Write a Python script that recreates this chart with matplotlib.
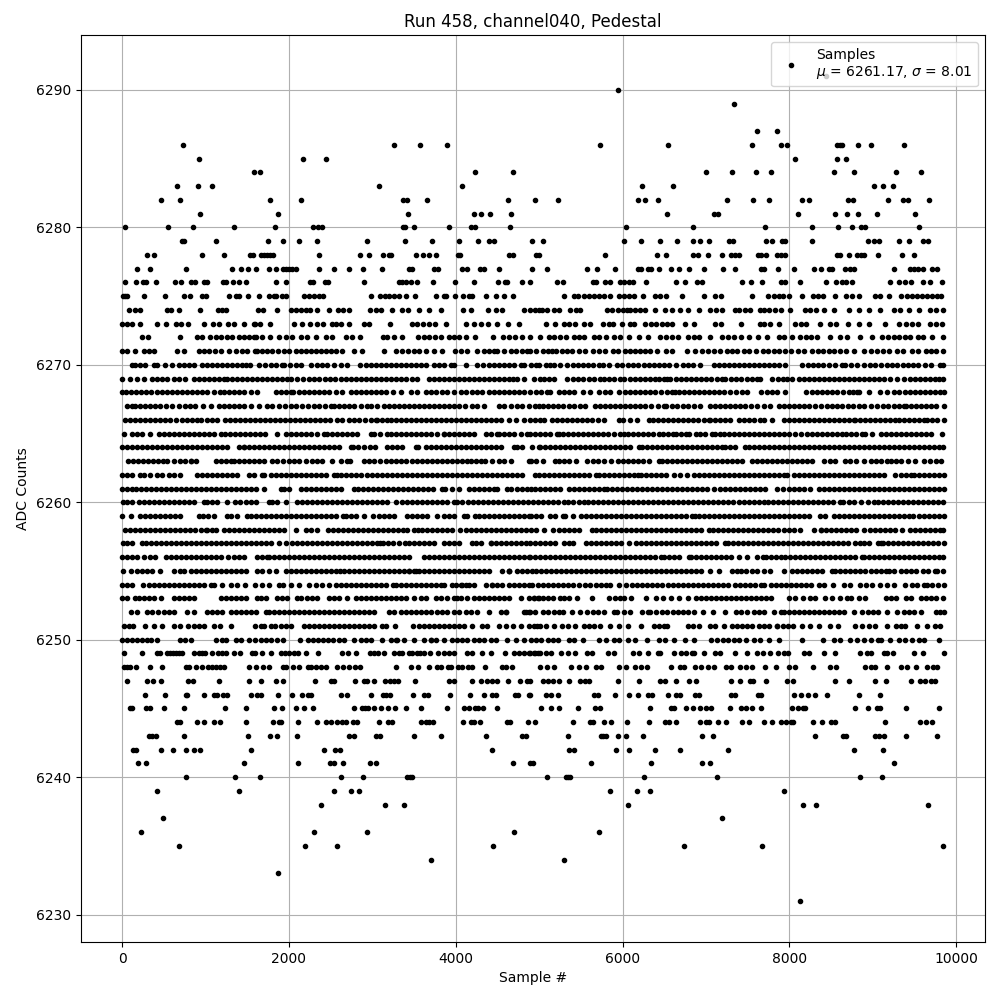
import matplotlib
matplotlib.use("Agg")
import matplotlib.pyplot as plt

# Sample numbers, one list per ADC count level
s6291 = [8443]
s6290 = [5940]
s6289 = [7332]
s6287 = [7608, 7848]
s6286 = [728, 3260, 3572, 3896, 5724, 6540, 7548, 7896, 7968, 8568, 8604, 8628, 8820, 8976, 9372]
s6285 = [920, 2168, 2444, 8064, 8568, 8676]
s6284 = [1580, 1652, 4232, 4688, 6996, 7308, 7596, 7776, 8532, 8772, 9276, 9576]
s6283 = [656, 908, 1076, 3080, 4076, 6228, 6600, 9012, 9120, 9240]
s6282 = [464, 692, 1772, 2144, 3368, 3416, 3656, 4628, 4944, 5220, 6180, 6264, 6420, 7248, 7560, 7752, 8148, 8232, 8700, 8760, 9180, 9360, 9420, 9672]
s6281 = [932, 1868, 3428, 4220, 4304, 4412, 4664, 6528, 7092, 7140, 8100, 8544, 8688, 8820, 9048, 9504]
s6280 = [32, 548, 848, 1340, 1832, 2288, 2348, 2396, 3368, 3392, 3500, 3920, 4184, 4232, 4652, 6036, 6840, 7704, 8268, 8580, 8748, 8856, 8904, 9552]
s6279 = [716, 740, 1124, 1748, 1928, 2120, 2336, 2936, 3392, 3716, 4040, 4268, 4396, 4460, 4912, 5040, 6012, 6216, 6444, 6648, 6840, 6924, 7032, 7272, 7320, 7716, 7788, 7908, 7944, 8268, 8940, 9012, 9072, 9312, 9432, 9600, 9660]
s6278 = [296, 380, 956, 1220, 1532, 1568, 1664, 1700, 1736, 1772, 1808, 2360, 2852, 2960, 3128, 3200, 3224, 3524, 3608, 3680, 3764, 4028, 4052, 4640, 4688, 4956, 4992, 5784, 6408, 6516, 6840, 6900, 7020, 7188, 7296, 7344, 7392, 7620, 7656, 7716, 7848, 7896, 7944, 8568, 8604, 8712, 8808, 8856, 8892, 9060, 9348, 9492]
s6277 = [176, 332, 764, 1316, 1424, 1508, 1604, 1760, 1844, 1928, 1964, 2000, 2036, 2084, 2360, 2540, 2720, 2888, 3116, 3440, 3476, 3740, 3788, 4076, 4136, 4292, 4340, 4520, 4912, 5088, 5568, 5688, 5904, 6180, 6216, 6300, 6336, 6432, 6576, 6672, 6792, 6972, 7200, 7344, 7656, 7692, 7860, 8052, 8292, 8376, 8472, 8508, 8664, 8724, 8772, 9252, 9444, 9492, 9540, 9600, 9708, 9768]
s6276 = [40, 172, 256, 292, 412, 632, 704, 824, 872, 980, 1016, 1208, 1244, 1328, 1400, 1484, 1844, 1964, 2252, 2288, 2432, 2468, 2900, 3320, 3356, 3404, 3464, 3536, 3728, 3992, 4220, 4508, 4592, 4616, 4796, 4892, 5208, 5280, 5640, 5676, 5784, 5844, 5964, 6012, 6072, 6120, 6276, 6636, 6744, 6888, 6948, 7428, 7536, 7668, 7896, 7944, 8124, 8436, 8556, 8628, 8676, 8748, 9204, 9312, 9384, 9452, 9600, 9684, 9828]
s6275 = [12, 36, 60, 268, 512, 740, 820, 956, 1004, 1280, 1360, 1400, 1508, 1640, 1760, 1820, 1844, 1916, 1964, 2180, 2240, 2300, 2360, 2408, 2984, 3092, 3152, 3200, 3260, 3320, 3400, 3512, 3764, 3860, 3884, 3992, 4088, 4160, 4196, 4364, 4484, 4580, 4688, 5292, 5412, 5470, 5532, 5592, 5652, 5712, 5772, 5844, 5952, 6020, 6080, 6132, 6240, 6384, 6444, 6516, 6712, 6972, 7104, 7176, 7552, 7740, 7812, 7872, 7920, 7992, 8148, 8280, 8340, 8400, 8544, 8676, 8748, 8832, 9024, 9084, 9192, 9332, 9412, 9472, 9530, 9590, 9650, 9710, 9770, 9820]
s6274 = [80, 160, 220, 536, 584, 680, 932, 1148, 1200, 1244, 1628, 1688, 1856, 2024, 2090, 2150, 2200, 2252, 2336, 2480, 2588, 2650, 2720, 2972, 3040, 3100, 3236, 3356, 3428, 3560, 3680, 3824, 4088, 4180, 4388, 4484, 4556, 4820, 4892, 4950, 5000, 5032, 5092, 5172, 5232, 5364, 5440, 5492, 5812, 5872, 5940, 6000, 6052, 6084, 6150, 6212, 6272, 6384, 6504, 6588, 6684, 6780, 6912, 7044, 7116, 7188, 7344, 7400, 7470, 7530, 7652, 7700, 7760, 7830, 7900, 8012, 8184, 8250, 8320, 8412, 8532, 8712, 8832, 8952, 9084, 9252, 9330, 9432, 9552, 9680, 9760, 9844]
s6273 = [0, 60, 120, 220, 420, 524, 644, 710, 788, 980, 1088, 1160, 1268, 1340, 1460, 1580, 1592, 1650, 1772, 2060, 2160, 2252, 2340, 2410, 2520, 2564, 2630, 2720, 2900, 2960, 3212, 3476, 3540, 3610, 3680, 3752, 3884, 4120, 4220, 4300, 4388, 4496, 4628, 4760, 5076, 5192, 5292, 5360, 5432, 5532, 5612, 5760, 5832, 5890, 5992, 6084, 6140, 6272, 6340, 6400, 6470, 6530, 6590, 6752, 6852, 7104, 7176, 7420, 7644, 7692, 7764, 7872, 8064, 8140, 8200, 8364, 8484, 8560, 8700, 8832, 8952, 9144, 9312, 9400, 9470, 9540, 9684, 9756, 9832]
s6272 = [240, 308, 692, 900, 960, 1056, 1120, 1180, 1260, 1320, 1400, 1460, 1520, 1580, 1608, 1680, 1772, 1880, 1960, 2040, 2140, 2220, 2324, 2440, 2520, 2680, 2760, 2852, 3124, 3180, 3260, 3360, 3548, 3620, 3680, 3750, 3820, 3920, 3980, 4040, 4120, 4228, 4448, 4572, 4640, 4712, 4800, 4888, 5012, 5112, 5180, 5244, 5324, 5412, 5472, 5540, 5652, 5712, 5804, 5892, 5964, 6072, 6192, 6300, 6452, 6520, 6590, 6660, 6780, 6852, 6920, 7052, 7192, 7260, 7332, 7420, 7512, 7620, 7732, 7872, 7940, 8028, 8132, 8200, 8260, 8330, 8484, 8612, 8692, 8852, 8992, 9112, 9180, 9252, 9312, 9380, 9440, 9540, 9604, 9704, 9844]
s6271 = [0, 60, 160, 260, 320, 388, 660, 740, 920, 980, 1040, 1110, 1180, 1280, 1360, 1436, 1500, 1588, 1620, 1680, 1740, 1800, 1870, 1940, 2000, 2080, 2140, 2200, 2260, 2320, 2380, 2440, 2500, 2570, 2640, 2780, 2880, 3140, 3280, 3360, 3428, 3500, 3560, 3644, 3740, 3836, 3992, 4060, 4132, 4260, 4340, 4400, 4460, 4500, 4580, 4660, 4720, 4790, 4860, 4892, 4960, 5040, 5100, 5152, 5204, 5272, 5332, 5392, 5472, 5552, 5644, 5720, 5790, 5884, 5940, 6024, 6090, 6150, 6210, 6270, 6332, 6412, 6520, 6592, 6772, 6872, 6952, 7020, 7100, 7172, 7250, 7310, 7372, 7452, 7520, 7600, 7680, 7740, 7810, 7880, 7952, 8020, 8100, 8180, 8272, 8340, 8400, 8470, 8540, 8612, 8680, 8780, 8892, 8980, 9050, 9120, 9192, 9292, 9360, 9472, 9540, 9632, 9700, 9760, 9840]
s6270 = [120, 160, 220, 280, 380, 420, 520, 600, 680, 740, 800, 860, 960, 1020, 1080, 1140, 1200, 1260, 1320, 1380, 1440, 1532, 1480, 1640, 1708, 1780, 1840, 1920, 1940, 2010, 2080, 2140, 2260, 2340, 2400, 2460, 2540, 2620, 2700, 2852, 2920, 2980, 3040, 3100, 3160, 3220, 3280, 3340, 3400, 3460, 3520, 3580, 3640, 3740, 3800, 3860, 3940, 3980, 4120, 4260, 4332, 4400, 4460, 4520, 4580, 4640, 4700, 4780, 4820, 4900, 4960, 5000, 5080, 5132, 5172, 5252, 5332, 5400, 5470, 5530, 5590, 5650, 5720, 5770, 5832, 5932, 5992, 6060, 6120, 6190, 6252, 6312, 6380, 6440, 6500, 6552, 6640, 6720, 6780, 6850, 6924, 7092, 7160, 7220, 7280, 7340, 7400, 7460, 7520, 7580, 7640, 7700, 7760, 7820, 7880, 7952, 8152, 8220, 8280, 8340, 8400, 8480, 8550, 8632, 8672, 8740, 8812, 8892, 8960, 9030, 9100, 9170, 9232, 9292, 9360, 9420, 9480, 9540, 9620, 9692, 9804, 9840]
s6269 = [0, 100, 180, 260, 360, 420, 480, 540, 620, 680, 760, 860, 920, 980, 1040, 1100, 1160, 1220, 1260, 1320, 1380, 1440, 1500, 1560, 1620, 1680, 1740, 1800, 1860, 1920, 1980, 2020, 2100, 2170, 2240, 2300, 2360, 2430, 2490, 2550, 2620, 2680, 2740, 2800, 2860, 2920, 2980, 3040, 3100, 3160, 3220, 3280, 3340, 3400, 3470, 3540, 3680, 3740, 3800, 3860, 3920, 3980, 4040, 4100, 4160, 4220, 4280, 4340, 4400, 4460, 4520, 4580, 4640, 4690, 4740, 4820, 4940, 5010, 5052, 5120, 5180, 5332, 5400, 5470, 5530, 5600, 5660, 5732, 5772, 5840, 5900, 5972, 6012, 6092, 6150, 6210, 6270, 6330, 6392, 6440, 6492, 6532, 6572, 6640, 6700, 6760, 6820, 6880, 6940, 7000, 7060, 7130, 7192, 7232, 7300, 7360, 7420, 7490, 7550, 7612, 7652, 7792, 7860, 7920, 7972, 8032, 8112, 8172, 8230, 8290, 8350, 8410, 8470, 8530, 8590, 8650, 8710, 8770, 8830, 8890, 8950, 9010, 9070, 9130, 9200, 9292, 9372, 9440, 9500, 9560, 9620, 9680, 9740, 9790, 9844]
s6268 = [0, 50, 110, 170, 230, 290, 350, 420, 480, 540, 600, 660, 720, 780, 840, 900, 960, 1020, 1100, 1172, 1220, 1280, 1340, 1400, 1460, 1540, 1620, 1840, 1900, 1960, 2020, 2052, 2120, 2180, 2240, 2300, 2360, 2420, 2480, 2560, 2640, 2740, 2800, 2860, 2920, 2980, 3040, 3100, 3160, 3250, 3340, 3460, 3530, 3640, 3700, 3760, 3830, 3900, 3980, 4060, 4120, 4190, 4260, 4320, 4400, 4460, 4520, 4580, 4640, 4700, 4760, 4820, 4892, 4960, 5020, 5092, 5132, 5232, 5292, 5360, 5420, 5520, 5612, 5720, 5790, 5852, 5952, 6024, 6090, 6150, 6210, 6270, 6330, 6392, 6460, 6530, 6590, 6632, 6672, 6740, 6800, 6860, 6920, 6980, 7040, 7100, 7160, 7220, 7292, 7360, 7430, 7492, 7660, 7730, 7790, 7852, 7952, 8204, 8270, 8330, 8390, 8450, 8510, 8570, 8640, 8710, 8760, 8812, 8832, 8952, 9084, 9172, 9252, 9312, 9380, 9440, 9500, 9560, 9620, 9680, 9740, 9800, 9850]
s6267 = [60, 120, 160, 220, 280, 340, 400, 460, 530, 600, 680, 760, 820, 880, 970, 1060, 1160, 1220, 1280, 1340, 1400, 1460, 1540, 1640, 1740, 1800, 1880, 1948, 2020, 2090, 2160, 2230, 2300, 2360, 2430, 2500, 2540, 2600, 2660, 2720, 2780, 2860, 2940, 2988, 3060, 3140, 3200, 3260, 3320, 3380, 3440, 3500, 3560, 3620, 3680, 3740, 3800, 3860, 3920, 3980, 4040, 4110, 4190, 4260, 4340, 4520, 4580, 4660, 4740, 4800, 4880, 4952, 4992, 5050, 5110, 5170, 5230, 5290, 5352, 5420, 5490, 5552, 5672, 5732, 5792, 5852, 5912, 5970, 6032, 6084, 6150, 6212, 6272, 6340, 6420, 6492, 6524, 6590, 6650, 6720, 6790, 6852, 6932, 7052, 7110, 7170, 7230, 7290, 7350, 7410, 7470, 7540, 7610, 7690, 7772, 7872, 7940, 8000, 8060, 8120, 8180, 8240, 8310, 8380, 8450, 8510, 8572, 8632, 8700, 8760, 8830, 8900, 8972, 9052, 9120, 9180, 9250, 9310, 9372, 9400, 9452, 9520, 9580, 9640, 9700, 9760, 9852]
s6266 = [40, 100, 160, 220, 280, 340, 400, 460, 520, 580, 650, 720, 780, 840, 900, 940, 1012, 1080, 1140, 1228, 1290, 1350, 1410, 1470, 1530, 1590, 1650, 1710, 1770, 1830, 1890, 1950, 2010, 2070, 2130, 2190, 2250, 2310, 2370, 2430, 2490, 2580, 2640, 2720, 2780, 2840, 2910, 2980, 3040, 3060, 3120, 3170, 3220, 3280, 3340, 3400, 3460, 3520, 3580, 3640, 3700, 3760, 3820, 3880, 3940, 4000, 4060, 4120, 4180, 4240, 4300, 4360, 4420, 4480, 4540, 4640, 4720, 4820, 4892, 4950, 5012, 5052, 5152, 5210, 5270, 5330, 5390, 5450, 5510, 5570, 5630, 5700, 5772, 5952, 6010, 6090, 6172, 6312, 6370, 6430, 6490, 6550, 6610, 6670, 6730, 6790, 6850, 6910, 6970, 7032, 7052, 7110, 7170, 7230, 7292, 7392, 7450, 7510, 7570, 7652, 7692, 7792, 7932, 7990, 8050, 8110, 8170, 8230, 8290, 8350, 8410, 8470, 8530, 8590, 8650, 8710, 8772, 8792, 8850, 8910, 8970, 9030, 9090, 9150, 9210, 9260, 9312, 9372, 9430, 9490, 9550, 9612, 9652, 9710, 9770, 9852]
s6265 = [20, 120, 180, 240, 340, 440, 500, 560, 620, 680, 740, 800, 860, 920, 980, 1040, 1100, 1180, 1228, 1290, 1350, 1410, 1470, 1530, 1590, 1650, 1710, 1860, 1960, 2020, 2080, 2140, 2200, 2260, 2340, 2420, 2460, 2520, 2580, 2640, 2700, 2760, 2820, 2980, 3020, 3090, 3180, 3220, 3280, 3340, 3400, 3460, 3520, 3580, 3640, 3700, 3780, 3860, 3860, 3920, 3980, 4040, 4100, 4160, 4220, 4360, 4420, 4500, 4520, 4580, 4640, 4700, 4780, 4860, 4892, 4950, 5010, 5070, 5130, 5212, 5232, 5290, 5350, 5410, 5470, 5530, 5590, 5650, 5710, 5770, 5830, 5900, 5972, 6012, 6070, 6130, 6190, 6250, 6310, 6370, 6432, 6480, 6540, 6600, 6640, 6700, 6760, 6800, 6880, 6932, 6992, 7072, 7112, 7172, 7212, 7270, 7330, 7390, 7450, 7510, 7570, 7630, 7690, 7750, 7810, 7870, 7930, 8000, 8064, 8144, 8212, 8270, 8330, 8390, 8450, 8510, 8570, 8632, 8680, 8740, 8800, 8870, 8912, 8992, 9092, 9152, 9220, 9280, 9340, 9400, 9460, 9520, 9580, 9640, 9692, 9832]
s6264 = [0, 60, 120, 180, 240, 300, 360, 420, 480, 540, 600, 660, 720, 780, 840, 900, 960, 1020, 1080, 1140, 1200, 1260, 1400, 1460, 1460, 1520, 1580, 1640, 1700, 1760, 1820, 1880, 1940, 2000, 2060, 2120, 2180, 2240, 2300, 2360, 2420, 2480, 2540, 2600, 2740, 2768, 2830, 2900, 2970, 3030, 3172, 3230, 3300, 3360, 3520, 3548, 3640, 3700, 3760, 3820, 3880, 3940, 4000, 4060, 4120, 4180, 4240, 4300, 4360, 4420, 4480, 4540, 4700, 4740, 4800, 4920, 5000, 5012, 5072, 5132, 5192, 5252, 5312, 5372, 5432, 5492, 5552, 5612, 5672, 5732, 5792, 5852, 5912, 5972, 6032, 6092, 6192, 6232, 6292, 6352, 6412, 6472, 6532, 6592, 6652, 6712, 6772, 6832, 6892, 6952, 7012, 7072, 7132, 7192, 7232, 7292, 7352, 7472, 7512, 7572, 7632, 7692, 7752, 7812, 7872, 7932, 7992, 8052, 8112, 8172, 8232, 8292, 8352, 8412, 8472, 8532, 8592, 8652, 8712, 8772, 8832, 8892, 8952, 9012, 9072, 9132, 9192, 9252, 9312, 9372, 9432, 9492, 9552, 9612, 9672, 9732, 9792, 9844]
s6263 = [68, 130, 190, 250, 310, 370, 430, 490, 540, 620, 828, 690, 760, 830, 890, 1120, 1180, 1240, 1300, 1340, 1400, 1460, 1520, 1580, 1640, 1700, 1800, 1860, 1930, 2000, 2060, 2120, 2200, 2280, 2340, 2400, 2520, 2630, 2700, 2730, 2900, 2960, 3020, 3090, 3160, 3220, 3280, 3340, 3400, 3480, 3540, 3600, 3660, 3720, 3780, 3840, 3900, 3960, 4020, 4080, 4140, 4188, 4240, 4300, 4348, 4440, 4520, 4580, 4660, 4880, 4900, 4960, 5040, 5192, 5240, 5300, 5360, 5440, 5572, 5640, 5700, 5772, 5864, 5940, 6000, 6060, 6120, 6180, 6240, 6320, 6432, 6472, 6530, 6590, 6650, 6710, 6770, 6830, 6890, 6950, 7010, 7070, 7130, 7190, 7250, 7310, 7370, 7432, 7552, 7612, 7672, 7732, 7792, 7852, 7912, 7972, 8032, 8092, 8152, 8212, 8272, 8412, 8484, 8544, 8672, 8730, 8800, 8892, 8972, 9032, 9092, 9172, 9220, 9280, 9340, 9420, 9504, 9612, 9680, 9752, 9812]
s6262 = [0, 60, 120, 220, 268, 340, 420, 480, 560, 620, 700, 900, 960, 1020, 1080, 1140, 1200, 1260, 1320, 1380, 1520, 1580, 1680, 1700, 1780, 1840, 1900, 1960, 2020, 2080, 2140, 2200, 2260, 2320, 2380, 2440, 2540, 2572, 2630, 2690, 2750, 2810, 2870, 2930, 2990, 3050, 3110, 3170, 3230, 3290, 3350, 3410, 3470, 3530, 3590, 3650, 3710, 3770, 3830, 3890, 3950, 4010, 4070, 4130, 4190, 4250, 4310, 4370, 4430, 4490, 4550, 4610, 4670, 4730, 4790, 4950, 5000, 5060, 5120, 5180, 5240, 5300, 5360, 5420, 5480, 5540, 5600, 5680, 5720, 5772, 5832, 5892, 5952, 6012, 6072, 6132, 6180, 6220, 6280, 6340, 6400, 6460, 6520, 6612, 6692, 6772, 6852, 6912, 6972, 7032, 7092, 7152, 7212, 7272, 7332, 7392, 7452, 7512, 7572, 7632, 7692, 7752, 7812, 7872, 7932, 7972, 8052, 8112, 8172, 8232, 8292, 8352, 8412, 8472, 8532, 8592, 8652, 8712, 8772, 8832, 8892, 8952, 9012, 9072, 9132, 9260, 9332, 9400, 9452, 9492, 9552, 9612, 9672, 9732, 9792, 9852]
s6261 = [0, 60, 120, 168, 230, 290, 350, 410, 470, 530, 590, 650, 710, 770, 830, 890, 950, 1010, 1070, 1130, 1190, 1250, 1310, 1370, 1430, 1490, 1550, 1610, 1700, 1900, 1940, 2000, 2140, 2200, 2260, 2320, 2380, 2440, 2500, 2560, 2620, 2780, 2830, 2890, 2950, 3010, 3070, 3130, 3190, 3250, 3310, 3370, 3430, 3490, 3550, 3610, 3670, 3730, 3840, 3870, 3950, 4040, 4160, 4220, 4280, 4340, 4400, 4460, 4500, 4620, 4668, 4730, 4790, 4850, 4900, 4950, 5010, 5070, 5130, 5190, 5250, 5352, 5412, 5472, 5532, 5592, 5652, 5712, 5772, 5812, 5872, 5932, 5992, 6052, 6112, 6172, 6232, 6292, 6352, 6412, 6472, 6532, 6592, 6652, 6712, 6772, 6832, 6892, 6952, 7012, 7092, 7172, 7232, 7292, 7352, 7412, 7472, 7532, 7592, 7652, 7712, 7852, 7920, 8000, 8060, 8120, 8180, 8252, 8352, 8412, 8472, 8532, 8592, 8652, 8712, 8772, 8832, 8892, 8952, 9012, 9072, 9132, 9192, 9252, 9312, 9372, 9432, 9492, 9552, 9612, 9672, 9732, 9792, 9852]
s6260 = [12, 60, 120, 200, 260, 320, 380, 440, 500, 560, 620, 680, 740, 800, 860, 980, 1020, 1080, 1140, 1260, 1352, 1412, 1480, 1540, 1600, 1760, 1800, 1860, 1960, 2100, 2160, 2216, 2280, 2340, 2400, 2460, 2520, 2580, 2640, 2700, 2760, 2820, 2880, 2940, 3000, 3060, 3120, 3180, 3280, 3360, 3420, 3480, 3540, 3600, 3660, 3720, 3780, 3840, 3900, 3980, 4020, 4080, 4152, 4204, 4264, 4324, 4384, 4444, 4504, 4564, 4624, 4684, 4744, 4804, 4864, 4924, 4984, 5044, 5104, 5164, 5224, 5292, 5340, 5400, 5472, 5540, 5580, 5640, 5700, 5760, 5820, 5880, 5940, 6000, 6060, 6120, 6180, 6240, 6300, 6360, 6420, 6480, 6540, 6600, 6660, 6720, 6780, 6840, 6900, 6960, 7020, 7080, 7140, 7200, 7260, 7320, 7392, 7460, 7520, 7580, 7640, 7692, 7740, 7800, 7860, 7920, 7980, 8040, 8100, 8160, 8220, 8280, 8340, 8400, 8460, 8520, 8612, 8644, 8712, 8780, 8860, 8940, 9012, 9060, 9120, 9180, 9240, 9300, 9360, 9420, 9480, 9540, 9600, 9660, 9720, 9780, 9840]
s6259 = [0, 112, 212, 270, 330, 390, 450, 510, 570, 640, 700, 920, 970, 1030, 1100, 1260, 1300, 1380, 1492, 1540, 1600, 1660, 1720, 1780, 1840, 1900, 1960, 2020, 2080, 2140, 2200, 2260, 2320, 2380, 2440, 2500, 2560, 2652, 2680, 2740, 2800, 2900, 3012, 3080, 3140, 3200, 3260, 3420, 3480, 3540, 3600, 3660, 3780, 3860, 3920, 3980, 4100, 4140, 4228, 4284, 4340, 4400, 4460, 4520, 4580, 4640, 4700, 4760, 4820, 4880, 4900, 4960, 5020, 5132, 5192, 5280, 5312, 5400, 5500, 5560, 5620, 5680, 5740, 5800, 5860, 5920, 5980, 6040, 6100, 6160, 6220, 6280, 6340, 6400, 6460, 6520, 6580, 6640, 6700, 6760, 6832, 6864, 6920, 6980, 7040, 7100, 7160, 7220, 7280, 7340, 7400, 7460, 7520, 7580, 7640, 7700, 7760, 7820, 7880, 7940, 8000, 8060, 8120, 8180, 8240, 8372, 8424, 8532, 8592, 8650, 8710, 8770, 8830, 8890, 8950, 9010, 9070, 9130, 9190, 9250, 9310, 9370, 9430, 9484, 9552, 9610, 9670, 9730, 9790, 9852]
s6258 = [40, 100, 160, 220, 280, 340, 400, 460, 520, 580, 640, 700, 760, 820, 880, 940, 1000, 1080, 1020, 1120, 1220, 1280, 1340, 1400, 1460, 1520, 1580, 1640, 1700, 1760, 1820, 1880, 1940, 2080, 2200, 2260, 2340, 2470, 2532, 2590, 2650, 2710, 2770, 2830, 2890, 2950, 3010, 3070, 3130, 3190, 3250, 3310, 3370, 3420, 3500, 3548, 3600, 3660, 3720, 3780, 3840, 3900, 3960, 4052, 4124, 4180, 4240, 4300, 4360, 4420, 4480, 4540, 4600, 4660, 4720, 4780, 4840, 4900, 4960, 5060, 5160, 5232, 5300, 5360, 5420, 5480, 5632, 5680, 5740, 5800, 5860, 5920, 5980, 6040, 6100, 6160, 6220, 6280, 6340, 6400, 6460, 6520, 6580, 6640, 6700, 6760, 6820, 6880, 6940, 7032, 7084, 7144, 7204, 7264, 7324, 7384, 7444, 7504, 7564, 7624, 7684, 7744, 7800, 7864, 7930, 7990, 8060, 8130, 8300, 8380, 8380, 8440, 8500, 8560, 8620, 8680, 8740, 8800, 8892, 8964, 9020, 9080, 9140, 9200, 9260, 9344, 9444, 9500, 9560, 9620, 9680, 9740, 9800, 9844]
s6257 = [12, 60, 120, 240, 288, 348, 408, 468, 528, 588, 648, 708, 768, 828, 888, 948, 1008, 1068, 1128, 1188, 1248, 1308, 1368, 1428, 1488, 1548, 1608, 1668, 1728, 1788, 1880, 1960, 2040, 2100, 2160, 2220, 2280, 2340, 2400, 2460, 2520, 2580, 2640, 2700, 2760, 2820, 2880, 2940, 3000, 3060, 3128, 3092, 3188, 3248, 3320, 3388, 3440, 3500, 3560, 3620, 3680, 3740, 3860, 3920, 3980, 4040, 4200, 4240, 4300, 4420, 4420, 4480, 4540, 4600, 4660, 4720, 4780, 4840, 4892, 4950, 5010, 5070, 5130, 5190, 5292, 5352, 5400, 5560, 5620, 5680, 5740, 5800, 5860, 5920, 5980, 6072, 6164, 6224, 6284, 6344, 6404, 6464, 6524, 6584, 6644, 6704, 6764, 6824, 6884, 6944, 7004, 7064, 7124, 7232, 7264, 7324, 7384, 7444, 7504, 7564, 7624, 7684, 7744, 7804, 7864, 7924, 7984, 8044, 8104, 8164, 8224, 8284, 8344, 8404, 8464, 8524, 8584, 8644, 8704, 8792, 8852, 8892, 8952, 9100, 9060, 9120, 9180, 9240, 9300, 9360, 9420, 9480, 9540, 9600, 9660, 9720, 9780, 9852]
s6256 = [0, 60, 120, 180, 260, 340, 400, 528, 588, 648, 708, 768, 828, 888, 948, 1008, 1068, 1128, 1188, 1268, 1340, 1400, 1460, 1620, 1680, 1740, 1760, 1820, 1880, 1940, 2000, 2060, 2120, 2180, 2240, 2300, 2360, 2420, 2480, 2540, 2600, 2660, 2720, 2780, 2840, 2900, 2960, 3020, 3080, 3140, 3200, 3260, 3320, 3380, 3440, 3620, 3680, 3740, 3800, 3860, 3920, 3980, 4040, 4100, 4160, 4220, 4280, 4340, 4400, 4460, 4520, 4580, 4640, 4700, 4760, 4820, 4880, 4892, 4952, 5012, 5072, 5132, 5192, 5252, 5312, 5372, 5432, 5492, 5552, 5612, 5672, 5732, 5792, 5852, 5912, 5972, 6032, 6092, 6152, 6212, 6272, 6332, 6392, 6460, 6492, 6552, 6612, 6672, 6792, 6820, 6880, 6940, 7000, 7060, 7120, 7180, 7240, 7300, 7392, 7492, 7612, 7680, 7720, 7780, 7840, 7900, 7952, 8012, 8072, 8132, 8192, 8252, 8312, 8372, 8432, 8492, 8552, 8612, 8672, 8732, 8792, 8872, 8892, 8952, 9012, 9072, 9132, 9192, 9252, 9312, 9372, 9432, 9492, 9552, 9612, 9672, 9732, 9792, 9840]
s6255 = [12, 108, 180, 240, 300, 360, 460, 628, 700, 740, 828, 890, 950, 1010, 1070, 1130, 1190, 1250, 1310, 1370, 1430, 1490, 1620, 1680, 1760, 1840, 1960, 2020, 2080, 2140, 2200, 2260, 2320, 2380, 2440, 2500, 2560, 2612, 2660, 2720, 2780, 2840, 2900, 2960, 3020, 3080, 3140, 3200, 3260, 3320, 3380, 3440, 3520, 3440, 3500, 3560, 3620, 3680, 3740, 3800, 3860, 3920, 3980, 4040, 4100, 4160, 4220, 4280, 4340, 4400, 4560, 4640, 4640, 4640, 4740, 4800, 4860, 4920, 4960, 5020, 5080, 5140, 5200, 5260, 5320, 5380, 5440, 5500, 5560, 5620, 5680, 5740, 5800, 5860, 5920, 5980, 6040, 6100, 6160, 6220, 6280, 6340, 6400, 6460, 6520, 6580, 6640, 6700, 6760, 6820, 6880, 6940, 7052, 7152, 7312, 7370, 7420, 7484, 7552, 7612, 7700, 7764, 7940, 8032, 8090, 8150, 8210, 8270, 8330, 8390, 8512, 8552, 8612, 8672, 8732, 8792, 8852, 8912, 8972, 9032, 9092, 9152, 9192, 9252, 9332, 9392, 9452, 9512, 9604, 9660, 9740, 9772, 9840]
s6254 = [0, 60, 120, 252, 320, 380, 440, 500, 560, 620, 680, 740, 800, 860, 920, 980, 1060, 1100, 1200, 1300, 1380, 1468, 1588, 1680, 1760, 1880, 1932, 2020, 2120, 2240, 2320, 2400, 2480, 2560, 2620, 2680, 2740, 2800, 2860, 2920, 2980, 3040, 3100, 3160, 3252, 3280, 3340, 3400, 3460, 3520, 3580, 3640, 3700, 3760, 3820, 3860, 3960, 4000, 4060, 4080, 4160, 4120, 4220, 4360, 4440, 4440, 4500, 4560, 4640, 4700, 4760, 4820, 4880, 4912, 4980, 5040, 5100, 5160, 5220, 5280, 5340, 5400, 5472, 5552, 5612, 5680, 5740, 5800, 5852, 5952, 6044, 6110, 6170, 6230, 6290, 6350, 6410, 6470, 6540, 6600, 6660, 6720, 6780, 6840, 6900, 6960, 7020, 7080, 7140, 7200, 7260, 7352, 7412, 7472, 7532, 7592, 7660, 7700, 7780, 7840, 7900, 7960, 8020, 8080, 8140, 8200, 8260, 8352, 8420, 8520, 8652, 8732, 8852, 8920, 8992, 9084, 9172, 9252, 9380, 9464, 9532, 9612, 9652, 9712, 9780, 9852]
s6253 = [0, 60, 150, 200, 260, 320, 380, 470, 620, 680, 740, 800, 860, 1180, 1240, 1300, 1360, 1420, 1480, 1620, 1660, 1720, 1860, 1920, 1980, 2100, 2148, 2220, 2280, 2340, 2480, 2540, 2600, 2700, 2800, 2860, 2920, 2980, 3040, 3100, 3160, 3220, 3280, 3340, 3400, 3500, 3580, 3640, 3760, 3820, 3900, 3980, 4020, 4060, 4140, 4220, 4280, 4340, 4400, 4460, 4520, 4580, 4640, 4788, 4880, 4940, 5000, 4932, 4990, 5050, 5110, 5170, 5250, 5292, 5360, 5452, 5632, 5840, 5912, 5970, 6012, 6100, 6284, 6404, 6480, 6580, 6680, 6780, 6880, 6940, 7000, 7060, 7120, 7180, 7240, 7300, 7360, 7420, 7480, 7540, 7600, 7660, 7720, 7780, 7992, 8064, 8164, 8244, 8310, 8432, 8512, 8612, 8692, 8740, 8832, 8912, 9152, 9212, 9272, 9392, 9452, 9572, 9640, 9700, 9760, 9840]
s6252 = [108, 180, 300, 360, 428, 500, 560, 620, 780, 860, 1012, 1080, 1140, 1200, 1300, 1360, 1420, 1480, 1540, 1600, 1720, 1760, 1820, 1880, 1940, 2000, 2060, 2120, 2180, 2240, 2300, 2360, 2420, 2480, 2540, 2600, 2660, 2720, 2780, 2840, 2900, 2960, 3020, 3200, 3260, 3340, 3400, 3460, 3520, 3580, 3640, 3700, 3780, 3840, 3900, 3980, 4040, 4120, 4180, 4260, 4400, 4540, 4600, 4600, 4820, 4840, 4880, 4892, 4950, 5050, 5110, 5172, 5232, 5290, 5392, 5492, 5572, 5640, 5700, 5772, 5892, 5932, 6020, 6090, 6232, 6300, 6332, 6400, 6472, 6532, 6600, 6660, 6720, 6780, 6852, 6964, 7084, 7232, 7360, 7420, 7492, 7572, 7640, 7700, 7820, 7900, 7932, 7990, 8050, 8110, 8170, 8230, 8290, 8350, 8410, 8470, 8530, 8590, 8650, 8772, 8872, 8940, 9000, 9060, 9172, 9292, 9372, 9432, 9492, 9572, 9752, 9810, 9852]
s6251 = [20, 80, 132, 272, 380, 480, 628, 700, 788, 860, 920, 980, 1100, 1170, 1308, 1592, 1660, 1700, 1780, 1832, 1900, 1960, 2020, 2180, 2240, 2300, 2360, 2420, 2480, 2540, 2600, 2660, 2720, 2780, 2840, 2900, 2960, 3020, 3120, 3160, 3272, 3492, 3560, 3620, 3680, 3740, 3800, 3860, 3920, 3980, 4040, 4100, 4200, 4320, 4372, 4520, 4600, 4692, 4788, 4880, 4972, 4932, 5010, 5076, 5172, 5272, 5340, 5424, 5532, 5600, 5660, 5732, 5844, 5952, 6060, 6220, 6372, 6432, 6500, 6532, 6780, 6840, 6912, 7052, 7110, 7212, 7312, 7370, 7430, 7490, 7550, 7632, 7692, 7752, 7852, 7852, 7920, 7980, 8040, 8152, 8244, 8352, 8492, 8584, 8784, 8870, 8950, 9020, 9164, 9280, 9332, 9380, 9532, 9652, 9740, 9800]
s6250 = [0, 60, 120, 180, 240, 300, 352, 420, 700, 760, 828, 1120, 1200, 1240, 1360, 1430, 1520, 1592, 1660, 1720, 1780, 1860, 1932, 2132, 2228, 2290, 2350, 2410, 2470, 2530, 2600, 2660, 2780, 2860, 2920, 2980, 3120, 3220, 3300, 3280, 3380, 3500, 3620, 3700, 3700, 3760, 3860, 3960, 4020, 4080, 4140, 4220, 4280, 4340, 4420, 4480, 4620, 4720, 4820, 4900, 4960, 5020, 5100, 5160, 5220, 5352, 5412, 5520, 5712, 5800, 5892, 5960, 6060, 6144, 6288, 6432, 6510, 6612, 6752, 6852, 7060, 7130, 7200, 7260, 7332, 7392, 7480, 7572, 7652, 7752, 7872, 8152, 8400, 8532, 8612, 8732, 8812, 8892, 8980, 9060, 9100, 9204, 9312, 9390, 9470, 9552, 9612, 9792]
s6249 = [20, 236, 416, 452, 536, 572, 608, 644, 680, 720, 860, 920, 956, 992, 1076, 1148, 1196, 1244, 1340, 1412, 1556, 1592, 1676, 1784, 1904, 1952, 2000, 2060, 2108, 2204, 2348, 2636, 2708, 2804, 2972, 3020, 3068, 3140, 3260, 3320, 3356, 3440, 3476, 3536, 3572, 3620, 3692, 3788, 3860, 3920, 3980, 4136, 4196, 4316, 4424, 4592, 4700, 4760, 4820, 4880, 4940, 4988, 4892, 4950, 5010, 5080, 5140, 5260, 5340, 5432, 5572, 5632, 5820, 5900, 6120, 6192, 6300, 6420, 6452, 6612, 6700, 6760, 6832, 6860, 6972, 7104, 7172, 7344, 7492, 7612, 7684, 7772, 7860, 7932, 7980, 8172, 8232, 8412, 8544, 8852, 8932, 8972, 9132, 9172, 9244, 9492, 9600, 9852]
s6248 = [20, 60, 100, 164, 332, 476, 764, 800, 884, 956, 1028, 1076, 1124, 1172, 1220, 1520, 1604, 1688, 1760, 1928, 1964, 2048, 2120, 2228, 2264, 2324, 2384, 2444, 2576, 2648, 2720, 2792, 2852, 3284, 3464, 3548, 3680, 3776, 3824, 3908, 3944, 4028, 4076, 4148, 4196, 4352, 4556, 4604, 4676, 5012, 5090, 5172, 5376, 5472, 5556, 5676, 5740, 5952, 6036, 6144, 6220, 6292, 6576, 6684, 6732, 6864, 6936, 7020, 7100, 7236, 7296, 7404, 7480, 7552, 7704, 7836, 7992, 8064, 8280, 8484, 8556, 8904, 8980, 9024, 9168, 9336, 9410, 9516, 9648, 9720, 9768]
s6247 = [56, 296, 368, 464, 788, 848, 1160, 1520, 1664, 1844, 1928, 2312, 2504, 2540, 2792, 2900, 2936, 3020, 3152, 3212, 3260, 3308, 3512, 3920, 3980, 4196, 4304, 4376, 4436, 4500, 4628, 4772, 4856, 4892, 5040, 5108, 5170, 5240, 5352, 5484, 5544, 5592, 5940, 6192, 6444, 6504, 6636, 6792, 6876, 7296, 7404, 7524, 7560, 7716, 7968, 8040, 8544, 8712, 9024, 9156, 9456, 9564, 9624, 9696, 9744]
s6246 = [272, 512, 764, 784, 980, 1100, 1136, 1208, 1256, 1544, 1616, 1664, 1868, 2036, 2156, 2228, 2264, 2624, 2696, 2984, 3128, 3164, 3212, 3488, 3620, 3668, 3932, 4172, 4340, 4436, 4484, 4712, 4748, 4880, 4892, 5076, 5136, 5220, 5652, 5700, 5904, 6072, 6180, 6300, 6348, 6540, 6636, 6684, 6864, 6912, 7296, 7344, 7620, 7656, 8052, 8136, 8220, 8304, 8448, 8832, 9084]
s6245 = [100, 124, 292, 332, 500, 740, 1232, 1484, 1820, 1916, 2084, 2180, 2288, 2780, 2876, 2912, 2948, 3020, 3104, 3188, 3272, 3404, 3584, 3896, 4100, 4160, 4232, 4264, 4328, 4496, 5016, 5136, 5232, 5460, 5664, 5724, 6324, 6576, 6612, 6756, 6840, 6924, 6996, 7056, 7284, 7416, 7476, 7548, 7656, 8028, 8100, 8160, 8184, 8784, 8940, 9048, 9084, 9396, 9792]
s6244 = [656, 692, 896, 980, 1100, 1172, 1484, 1808, 1880, 1904, 2108, 2336, 2444, 2504, 2576, 2636, 2684, 2768, 2816, 3080, 3188, 3236, 3584, 3644, 3680, 3728, 4088, 4184, 4220, 4292, 4616, 4652, 4868, 4952, 5400, 5604, 5640, 5772, 5856, 6048, 6312, 6504, 6552, 6636, 6924, 6996, 7032, 7140, 7236, 7428, 7512, 7692, 7788, 7896, 7956, 8016, 8040, 8280, 8388, 8496, 8544, 9144, 9564, 9636, 9708]
s6243 = [320, 356, 404, 740, 1508, 1772, 1856, 2096, 2720, 2780, 3044, 3092, 3500, 3824, 4364, 4796, 4844, 5340, 5736, 5764, 5796, 5940, 6036, 6240, 6948, 7080, 8304, 8640, 8676, 9024, 9072, 9132, 9396, 9768]
s6242 = [136, 172, 464, 608, 764, 860, 932, 1544, 2420, 2552, 2612, 4436, 5352, 5412, 5916, 6072, 6384, 6684, 7260, 8772, 9120]
s6241 = [188, 284, 1460, 2108, 2492, 2540, 2648, 2972, 3044, 4688, 4892, 4928, 5616, 6336, 6948, 7044, 9252]
s6240 = [764, 1352, 1652, 2624, 2888, 3416, 3452, 3476, 5088, 5316, 5340, 5364, 6252, 7128, 8844, 9108]
s6239 = [416, 1400, 2540, 2744, 2840, 5844, 6168, 6324, 7932]
s6238 = [2384, 3152, 3380, 6060, 8160, 8316, 9660]
s6237 = [488, 7188]
s6236 = [224, 2300, 2936, 4700, 5712]
s6235 = [680, 2192, 2576, 4448, 6732, 7668, 9840]
s6234 = [3704, 5292]
s6233 = [1868]
s6231 = [8124]

levels = {
    6291: s6291, 6290: s6290, 6289: s6289, 6287: s6287, 6286: s6286, 6285: s6285,
    6284: s6284, 6283: s6283, 6282: s6282, 6281: s6281, 6280: s6280, 6279: s6279,
    6278: s6278, 6277: s6277, 6276: s6276, 6275: s6275, 6274: s6274, 6273: s6273,
    6272: s6272, 6271: s6271, 6270: s6270, 6269: s6269, 6268: s6268, 6267: s6267,
    6266: s6266, 6265: s6265, 6264: s6264, 6263: s6263, 6262: s6262, 6261: s6261,
    6260: s6260, 6259: s6259, 6258: s6258, 6257: s6257, 6256: s6256, 6255: s6255,
    6254: s6254, 6253: s6253, 6252: s6252, 6251: s6251, 6250: s6250, 6249: s6249,
    6248: s6248, 6247: s6247, 6246: s6246, 6245: s6245, 6244: s6244, 6243: s6243,
    6242: s6242, 6241: s6241, 6240: s6240, 6239: s6239, 6238: s6238, 6237: s6237,
    6236: s6236, 6235: s6235, 6234: s6234, 6233: s6233, 6231: s6231,
}

x = []
y = []
for level, samples in levels.items():
    x.extend(samples)
    y.extend([level] * len(samples))

fig, ax = plt.subplots(figsize=(10, 10), dpi=100)
ax.plot(x, y, "k.", label="Samples\n$\\mu$ = 6261.17, $\\sigma$ = 8.01")
ax.set_title("Run 458, channel040, Pedestal")
ax.set_xlabel("Sample #")
ax.set_ylabel("ADC Counts")
ax.grid(True)
ax.legend(loc="upper right")
ax.ticklabel_format(useOffset=False, axis="y")
fig.subplots_adjust(left=0.081, right=0.985, top=0.965, bottom=0.058)
fig.savefig("out.png", dpi=100)
